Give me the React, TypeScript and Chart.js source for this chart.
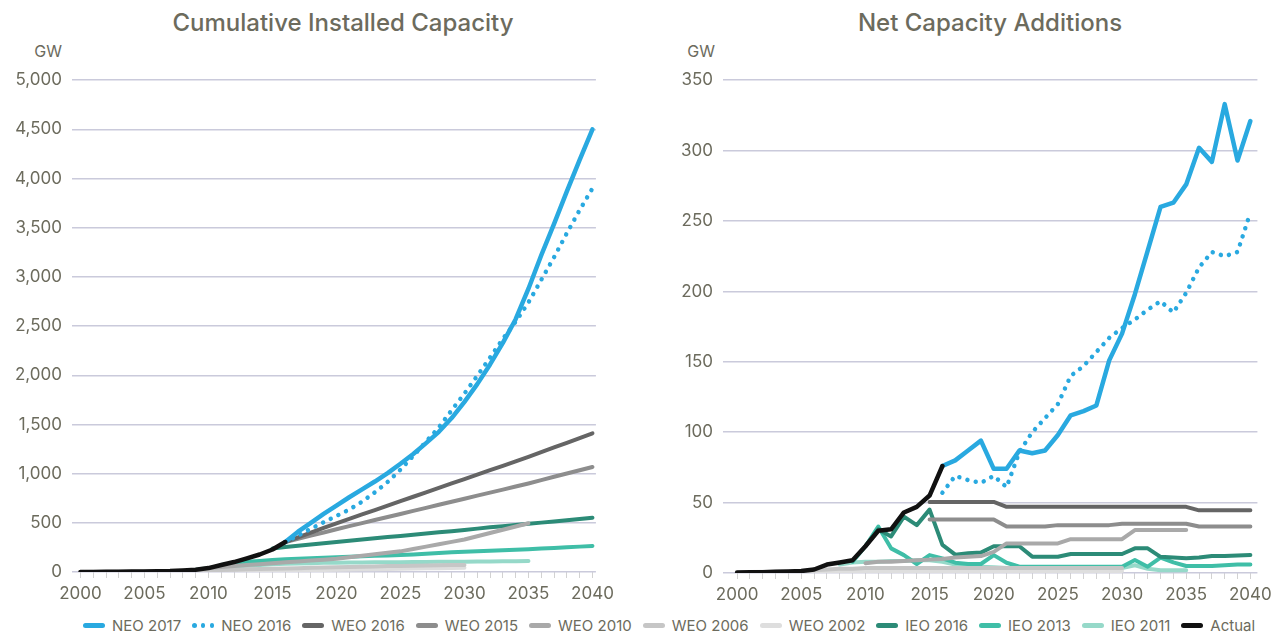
import React, { useEffect, useRef } from 'react';
import { Chart, registerables } from 'chart.js';

Chart.register(...registerables);

// ---------- axis ticks ----------
const xTickLabels = ['2000', '2005', '2010', '2015', '2020', '2025', '2030', '2035', '2040'];
const xFirstYear = 2000;
const xLastYear = 2040;
const leftYTicks = [0, 500, 1000, 1500, 2000, 2500, 3000, 3500, 4000, 4500, 5000];
const rightYTicks = [0, 50, 100, 150, 200, 250, 300, 350];

const seriesNames = ['NEO 2017', 'NEO 2016', 'WEO 2016', 'WEO 2015', 'WEO 2010', 'WEO 2006', 'WEO 2002', 'IEO 2016', 'IEO 2013', 'IEO 2011', 'Actual'];

// ---------- Cumulative installed capacity (GW) ----------
const cumActualStart = 2000;
const cumActual = [1, 1, 2, 3, 4, 5, 7, 9, 16, 23, 40, 71, 101, 139, 178, 229, 305];
const cumNeo2017Start = 2016;
const cumNeo2017 = [305, 410, 500, 590, 675, 760, 840, 920, 1005, 1100, 1200, 1310, 1425, 1565, 1730, 1910, 2110, 2330, 2570, 2880, 3220, 3540, 3870, 4190, 4500];
const cumNeo2016Start = 2016;
const cumNeo2016 = [305, 370, 440, 505, 570, 635, 715, 810, 915, 1040, 1180, 1325, 1470, 1645, 1815, 1995, 2180, 2370, 2545, 2740, 2970, 3200, 3445, 3680, 3900];
const cumWeo2016Start = 2016;
const cumWeo2016 = [305, 352, 400, 448, 495, 540, 585, 630, 675, 720, 765, 810, 855, 900, 945, 990, 1035, 1080, 1125, 1170, 1218, 1266, 1314, 1362, 1410];
const cumWeo2015Start = 2016;
const cumWeo2015 = [305, 338, 370, 402, 434, 466, 497, 528, 559, 590, 621, 652, 683, 714, 745, 776, 807, 838, 869, 900, 934, 968, 1001, 1035, 1068];
const cumWeo2010Start = 2010;
const cumWeo2010 = [40, 50, 60, 70, 80, 89, 98, 107, 116, 125, 135, 150, 165, 180, 195, 210, 234, 258, 282, 306, 330, 363, 396, 429, 462, 495];
const cumWeo2006Start = 2005;
const cumWeo2006 = [5, 7, 9, 12, 15, 18, 21, 24, 27, 30, 33, 36, 39, 42, 45, 48, 51, 54, 57, 60, 62, 64, 66, 68, 70, 72];
const cumWeo2002Start = 2000;
const cumWeo2002 = [1, 2, 3, 4, 5, 6, 7, 8, 9, 10, 11, 12, 13, 14, 15, 16, 17, 18, 19, 21, 23, 25, 27, 29, 31, 33, 35, 37, 39, 41, 43];
const cumIeo2016Start = 2015;
const cumIeo2016 = [240, 254, 267, 280, 292, 304, 317, 330, 343, 355, 367, 379, 391, 403, 415, 428, 441, 454, 466, 478, 490, 502, 514, 526, 538, 551];
const cumIeo2013Start = 2011;
const cumIeo2013 = [71, 90, 103, 112, 122, 130, 135, 140, 145, 150, 155, 159, 164, 168, 173, 179, 186, 193, 200, 206, 211, 216, 221, 226, 231, 238, 245, 251, 258, 265];
const cumIeo2011Start = 2009;
const cumIeo2011 = [24, 40, 50, 57, 64, 71, 78, 83, 87, 90, 93, 95, 96, 97, 98, 99, 100, 101, 102, 103, 104, 105, 107, 108, 109, 110, 112];

// ---------- Net capacity additions (GW) ----------
const addActualStart = 2000;
const addActual = [0.3, 0.5, 0.6, 0.8, 1, 1.4, 2.5, 6, 7.5, 9, 19, 30, 31, 43, 47, 55, 76];
const addNeo2017Start = 2016;
const addNeo2017 = [76, 80, 87, 94, 74, 74, 87, 85, 87, 98, 112, 115, 119, 151, 170, 198, 229, 260, 263, 276, 302, 292, 333, 293, 321];
const addNeo2016Start = 2016;
const addNeo2016 = [57, 69, 66, 64, 69, 61, 86, 100, 110, 120, 140, 147, 157, 167, 174, 180, 187, 193, 185, 199, 217, 228, 225, 228, 256];
const addWeo2016Start = 2015;
const addWeo2016 = [50.5, 50.5, 50.5, 50.5, 50.5, 50.5, 47, 47, 47, 47, 47, 47, 47, 47, 47, 47, 47, 47, 47, 47, 47, 44.5, 44.5, 44.5, 44.5, 44.5];
const addWeo2015Start = 2015;
const addWeo2015 = [38, 38, 38, 38, 38, 38, 33, 33, 33, 33, 34, 34, 34, 34, 34, 35, 35, 35, 35, 35, 35, 33, 33, 33, 33, 33];
const addWeo2010Start = 2010;
const addWeo2010 = [7, 8, 8, 8.5, 9, 9.5, 10, 11, 11.5, 12, 15, 21, 21, 21, 21, 21, 24, 24, 24, 24, 24, 30.5, 30.5, 30.5, 30.5, 30.5];
const addWeo2006Start = 2005;
const addWeo2006 = [1.5, 2, 2.5, 3, 3, 3.5, 3.5, 3.5, 3.5, 3.5, 3.5, 3.5, 3.5, 3.5, 3.5, 3.5, 3.5, 3.5, 3.5, 3.5, 3.5, 3.5, 3.5, 3.5, 3.5, 3.5];
const addWeo2002Start = 2000;
const addWeo2002 = [0.5, 0.7, 0.8, 1, 1, 1, 1.2, 1.2, 1.2, 1.2, 1.2, 1.2, 1.2, 1.5, 1.5, 1.5, 1.5, 1.5, 1.5, 1.5, 1.5, 1.5, 1.5, 1.5, 1.5, 1.5, 1.5, 1.5, 1.5, 1.5, 1.5];
const addIeo2016Start = 2010;
const addIeo2016 = [19, 31, 26, 40, 34, 45, 20, 13, 14, 14.5, 19, 19, 19, 11.6, 11.6, 11.6, 13.5, 13.5, 13.5, 13.5, 13.5, 17.5, 17.5, 11.5, 11, 10.5, 11, 12, 12, 12.5, 12.7];
const addIeo2013Start = 2009;
const addIeo2013 = [8, 19, 33, 17.5, 12.7, 6.4, 12.7, 10.4, 7.3, 6.4, 6.4, 12.7, 7.3, 4.5, 4.5, 4.5, 4.5, 4.5, 4.5, 4.5, 4.5, 4.5, 9.2, 4.5, 11, 7.5, 5, 5, 5, 5.5, 6, 6];
const addIeo2011Start = 2008;
const addIeo2011 = [6, 7.5, 8, 8, 8.5, 8.5, 9, 9, 8, 6, 5, 4.5, 4, 3.5, 3, 3, 3, 3, 3, 3, 3, 3, 3.5, 5.5, 3, 2, 2, 2];

// ---------- styles ----------
const FONT = 'Inter, "Noto Sans", sans-serif';
const TEXT = '#6c6b5d';
const GRID = '#cacadb';
const STYLE: Record<string, { color: string; width: number; dotted?: boolean; order: number }> = {
  'NEO 2017': { color: '#29a9e0', width: 4.5, order: 1 },
  'NEO 2016': { color: '#29a9e0', width: 4.5, dotted: true, order: 2 },
  'WEO 2016': { color: '#656565', width: 4, order: 3 },
  'WEO 2015': { color: '#8d8d8d', width: 4, order: 4 },
  'WEO 2010': { color: '#a9a9a9', width: 4, order: 5 },
  'WEO 2006': { color: '#c6c6c6', width: 4, order: 6 },
  'WEO 2002': { color: '#dedede', width: 4, order: 7 },
  'IEO 2016': { color: '#2c8b77', width: 4, order: 8 },
  'IEO 2013': { color: '#3fbea7', width: 4, order: 9 },
  'IEO 2011': { color: '#96d9c9', width: 4, order: 10 },
  'Actual': { color: '#111111', width: 4.5, order: 0 },
};

const cumSeries: [string, number, number[]][] = [
  ['NEO 2017', cumNeo2017Start, cumNeo2017],
  ['NEO 2016', cumNeo2016Start, cumNeo2016],
  ['WEO 2016', cumWeo2016Start, cumWeo2016],
  ['WEO 2015', cumWeo2015Start, cumWeo2015],
  ['WEO 2010', cumWeo2010Start, cumWeo2010],
  ['WEO 2006', cumWeo2006Start, cumWeo2006],
  ['WEO 2002', cumWeo2002Start, cumWeo2002],
  ['IEO 2016', cumIeo2016Start, cumIeo2016],
  ['IEO 2013', cumIeo2013Start, cumIeo2013],
  ['IEO 2011', cumIeo2011Start, cumIeo2011],
  ['Actual', cumActualStart, cumActual],
];
const addSeries: [string, number, number[]][] = [
  ['NEO 2017', addNeo2017Start, addNeo2017],
  ['NEO 2016', addNeo2016Start, addNeo2016],
  ['WEO 2016', addWeo2016Start, addWeo2016],
  ['WEO 2015', addWeo2015Start, addWeo2015],
  ['WEO 2010', addWeo2010Start, addWeo2010],
  ['WEO 2006', addWeo2006Start, addWeo2006],
  ['WEO 2002', addWeo2002Start, addWeo2002],
  ['IEO 2016', addIeo2016Start, addIeo2016],
  ['IEO 2013', addIeo2013Start, addIeo2013],
  ['IEO 2011', addIeo2011Start, addIeo2011],
  ['Actual', addActualStart, addActual],
];

function buildDatasets(series: [string, number, number[]][]) {
  return series.map(([name, start, values]) => {
    const s = STYLE[name];
    return {
      label: name,
      data: values.map((v, i) => ({ x: start + i, y: v })),
      borderColor: s.color,
      backgroundColor: s.color,
      borderWidth: s.width,
      borderDash: s.dotted ? [0.01, 8.5] : [],
      borderCapStyle: 'round' as const,
      borderJoinStyle: 'round' as const,
      pointRadius: 0,
      tension: 0,
      fill: false,
      order: s.order,
    };
  });
}

function buildOptions(cfg: {
  xMin: number; xMax: number; yMax: number; yTicks: number[]; yWidth: number;
  padding: { left: number; right: number; top: number; bottom: number };
}) {
  const years: number[] = [];
  for (let y = xFirstYear; y <= xLastYear; y++) years.push(y);
  return {
    animation: false as const,
    responsive: true,
    maintainAspectRatio: false,
    layout: { padding: cfg.padding },
    plugins: { legend: { display: false }, tooltip: { enabled: false }, title: { display: false } },
    scales: {
      x: {
        type: 'linear' as const,
        min: cfg.xMin,
        max: cfg.xMax,
        afterBuildTicks: (s: any) => { s.ticks = years.map((v) => ({ value: v })); },
        afterFit: (s: any) => { s.height = 32; },
        ticks: {
          autoSkip: false,
          maxRotation: 0,
          padding: 6,
          color: TEXT,
          font: { family: FONT, size: 17 },
          callback: (v: any) => (xTickLabels.includes(String(v)) ? String(v) : ''),
        },
        grid: { drawOnChartArea: false, drawTicks: true, tickLength: 6, color: '#d2d2d2', lineWidth: 1 },
        border: { display: false },
      },
      y: {
        min: 0,
        max: cfg.yMax,
        afterBuildTicks: (s: any) => { s.ticks = cfg.yTicks.map((v) => ({ value: v })); },
        afterFit: (s: any) => { s.width = cfg.yWidth; },
        ticks: {
          padding: 10,
          color: TEXT,
          font: { family: FONT, size: 17 },
          callback: (v: any) => Number(v).toLocaleString('en-US'),
        },
        grid: { color: GRID, lineWidth: 1.5, drawTicks: false },
        border: { display: false },
      },
    },
  };
}

function LineChart(props: { series: [string, number, number[]][]; options: any; style: React.CSSProperties }) {
  const ref = useRef<HTMLCanvasElement | null>(null);
  useEffect(() => {
    if (!ref.current) return;
    const chart = new Chart(ref.current, {
      type: 'line',
      data: { datasets: buildDatasets(props.series) as any },
      options: props.options,
    });
    return () => chart.destroy();
  }, []);
  return (
    <div style={{ position: 'absolute', ...props.style }}>
      <canvas ref={ref} />
    </div>
  );
}

function Swatch({ name }: { name: string }) {
  const s = STYLE[name];
  if (s.dotted) {
    return (
      <span style={{ display: 'inline-flex', width: 22, justifyContent: 'space-between', marginRight: 7 }}>
        {[0, 1, 2].map((i) => (
          <span key={i} style={{ width: 4.5, height: 4.5, borderRadius: 3, background: s.color, display: 'inline-block' }} />
        ))}
      </span>
    );
  }
  return <span style={{ display: 'inline-block', width: 22, height: 4.5, borderRadius: 3, background: s.color, marginRight: 7 }} />;
}

export default function App() {
  const leftOptions = buildOptions({
    xMin: 1999.34, xMax: 2040.27, yMax: 5000, yTicks: leftYTicks, yWidth: 72,
    padding: { left: 0, right: 22, top: 19, bottom: 6 },
  });
  const rightOptions = buildOptions({
    xMin: 1998.9, xMax: 2040.55, yMax: 350, yTicks: rightYTicks, yWidth: 83,
    padding: { left: 0, right: 18, top: 19, bottom: 5 },
  });
  const titleStyle: React.CSSProperties = {
    position: 'absolute', top: 8, fontFamily: FONT, fontSize: 24, fontWeight: 500, color: TEXT,
    textAlign: 'center', whiteSpace: 'nowrap',
  };
  const gwStyle: React.CSSProperties = {
    position: 'absolute', top: 41, fontFamily: FONT, fontSize: 16, color: TEXT, textAlign: 'right', width: 42,
  };
  return (
    <div style={{ position: 'absolute', left: 0, top: 0, width: 1278, height: 635, background: '#fff', overflow: 'hidden' }}>
      <div style={{ ...titleStyle, left: 143, width: 400 }}>Cumulative Installed Capacity</div>
      <div style={{ ...titleStyle, left: 790, width: 400 }}>Net Capacity Additions</div>
      <div style={{ ...gwStyle, left: 20 }}>GW</div>
      <div style={{ ...gwStyle, left: 673 }}>GW</div>
      <LineChart series={cumSeries} options={leftOptions} style={{ left: 0, top: 60, width: 620, height: 550 }} />
      <LineChart series={addSeries} options={rightOptions} style={{ left: 640, top: 60, width: 638, height: 550 }} />
      <div style={{ position: 'absolute', left: 83, top: 616, display: 'flex', fontFamily: FONT, fontSize: 15, color: TEXT, whiteSpace: 'nowrap' }}>
        {seriesNames.map((n) => (
          <span key={n} style={{ display: 'inline-flex', alignItems: 'center', marginRight: 11 }}>
            <Swatch name={n} />
            <span>{n}</span>
          </span>
        ))}
      </div>
    </div>
  );
}
